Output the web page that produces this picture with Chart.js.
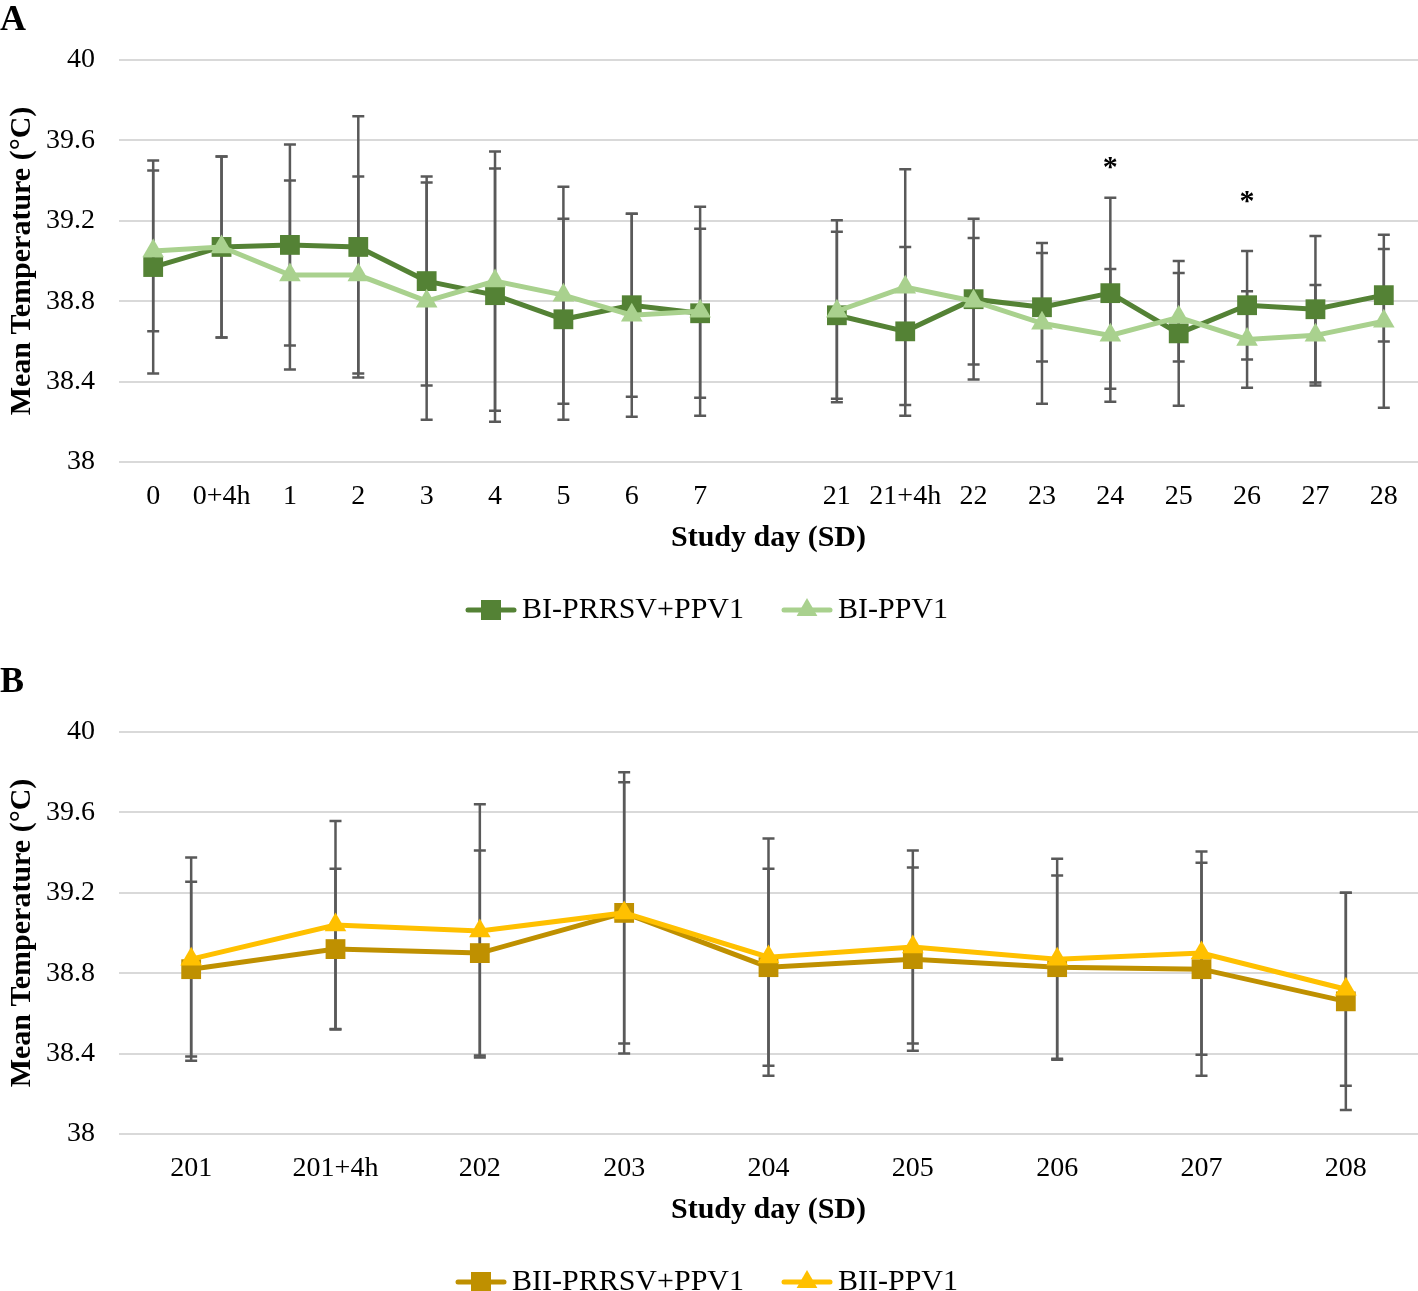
<!DOCTYPE html>
<html>
<head>
<meta charset="utf-8">
<script src="https://cdn.jsdelivr.net/npm/chart.js@4.4.1/dist/chart.umd.min.js"></script>
<style>
  html, body { margin: 0; padding: 0; background: #fff; overflow: hidden; }
  .panel { position: relative; width: 1418px; height: 672px; }
  canvas { display: block; }
  .letter { position: absolute; left: 0; font: bold 36px 'Liberation Serif', 'Times New Roman', serif; line-height: 36px; color: #000; }
</style>
</head>
<body>
<div class="panel"><canvas id="chartA" width="1418" height="672"></canvas></div>
<div class="panel"><canvas id="chartB" width="1418" height="672"></canvas></div>
<div class="letter" style="top:0px">A</div>
<div class="letter" style="top:662px">B</div>
<script>
// ---------------- Data ----------------
const daysA = ['0','0+4h','1','2','3','4','5','6','7','','21','21+4h','22','23','24','25','26','27','28'];
const labelA1 = 'BI-PRRSV+PPV1';
const meanA1 = [38.97, 39.07, 39.08, 39.07, 38.90, 38.83, 38.71, 38.78, 38.74, null, 38.73, 38.65, 38.81, 38.77, 38.84, 38.64, 38.78, 38.76, 38.83];
const sdA1   = [0.53, 0.45, 0.50, 0.65, 0.52, 0.63, 0.50, 0.455, 0.42, null, 0.415, 0.42, 0.40, 0.27, 0.475, 0.36, 0.27, 0.365, 0.23];
const labelA2 = 'BI-PPV1';
const meanA2 = [39.05, 39.07, 38.93, 38.93, 38.80, 38.90, 38.83, 38.73, 38.75, null, 38.75, 38.87, 38.80, 38.69, 38.63, 38.72, 38.61, 38.63, 38.70];
const sdA2   = [0.40, 0.45, 0.47, 0.49, 0.59, 0.645, 0.54, 0.505, 0.52, null, 0.453, 0.586, 0.315, 0.40, 0.33, 0.22, 0.24, 0.25, 0.43];
const starsA = [['24', 39.49], ['26', 39.32]];

const daysB = ['201','201+4h','202','203','204','205','206','207','208'];
const labelB1 = 'BII-PRRSV+PPV1';
const meanB1 = [38.82, 38.92, 38.90, 39.10, 38.83, 38.87, 38.83, 38.82, 38.66];
const sdB1   = [0.435, 0.40, 0.51, 0.65, 0.49, 0.456, 0.456, 0.53, 0.54];
const labelB2 = 'BII-PPV1';
const meanB2 = [38.87, 39.04, 39.01, 39.10, 38.88, 38.93, 38.87, 38.90, 38.72];
const sdB2   = [0.506, 0.517, 0.63, 0.70, 0.59, 0.48, 0.50, 0.506, 0.48];
const starsB = [];

const yTicks = [38, 38.4, 38.8, 39.2, 39.6, 40];
const yTitle = 'Mean Temperature (°C)';
const xTitle = 'Study day (SD)';

// ---------------- Style ----------------
const FONT = "'Liberation Serif', 'Times New Roman', serif";
const COL = { darkGreen: '#548235', lightGreen: '#A9D18E', gold: '#BF9000', yellow: '#FFC000', err: '#595959', grid: '#D9D9D9' };

function legendIcon(color, style) {
  const c = document.createElement('canvas');
  c.width = 57; c.height = 24;
  const g = c.getContext('2d');
  g.strokeStyle = color; g.lineWidth = 5; g.lineCap = 'round';
  g.beginPath(); g.moveTo(8, 12); g.lineTo(54, 12); g.stroke();
  g.fillStyle = color;
  const cx = 31, cy = 12;
  if (style === 'rect') {
    g.fillRect(cx - 10, cy - 10, 20, 20);
  } else {
    const r = 12;
    g.beginPath();
    g.moveTo(cx, cy - r);
    g.lineTo(cx + r * Math.sin(2 * Math.PI / 3), cy - r * Math.cos(2 * Math.PI / 3));
    g.lineTo(cx + r * Math.sin(4 * Math.PI / 3), cy - r * Math.cos(4 * Math.PI / 3));
    g.closePath(); g.fill();
  }
  return c;
}

const errorBarPlugin = {
  id: 'errorBars',
  beforeDatasetsDraw(chart) {
    const ctx = chart.ctx, ys = chart.scales.y;
    ctx.save();
    ctx.strokeStyle = COL.err; ctx.lineWidth = 2.5;
    chart.data.datasets.forEach((ds, i) => {
      const meta = chart.getDatasetMeta(i);
      ds.data.forEach((v, j) => {
        const sd = ds.errors[j];
        if (v == null || sd == null) return;
        const x = meta.data[j].x;
        const yt = ys.getPixelForValue(v + sd), yb = ys.getPixelForValue(v - sd);
        ctx.beginPath();
        ctx.moveTo(x, yt); ctx.lineTo(x, yb);
        ctx.moveTo(x - 6, yt); ctx.lineTo(x + 6, yt);
        ctx.moveTo(x - 6, yb); ctx.lineTo(x + 6, yb);
        ctx.stroke();
      });
    });
    ctx.restore();
  }
};

function starPlugin(items) {
  return {
    id: 'stars',
    afterDatasetsDraw(chart) {
      const ctx = chart.ctx, xs = chart.scales.x, ys = chart.scales.y;
      ctx.save();
      ctx.fillStyle = '#000';
      ctx.font = 'bold 30px ' + FONT;
      ctx.textAlign = 'center';
      ctx.textBaseline = 'alphabetic';
      items.forEach(([cat, val]) => {
        const x = xs.getPixelForValue(xs.getLabels().indexOf(cat));
        const y = ys.getPixelForValue(val);
        ctx.fillText('*', x, y + 13);
      });
      ctx.restore();
    }
  };
}

function zeroSidePadding(s) {
  s.paddingLeft = 0; s.paddingRight = 0;
}

function makeChart(id, labels, series, stars) {
  const datasets = series.map((s, i) => ({
    label: s.label,
    data: s.mean,
    errors: s.sd,
    borderColor: s.color,
    backgroundColor: s.color,
    borderWidth: 5,
    pointStyle: s.style,
    pointRadius: s.style === 'rect' ? 14 : 12.5,
    pointBorderWidth: 0,
    pointBackgroundColor: s.color,
    tension: 0,
    spanGaps: false,
    order: series.length - i
  }));
  const icons = series.map(s => legendIcon(s.color, s.style));
  return new Chart(document.getElementById(id), {
    type: 'line',
    data: { labels, datasets },
    plugins: [errorBarPlugin, starPlugin(stars)],
    options: {
      responsive: false,
      devicePixelRatio: 1,
      animation: false,
      events: [],
      layout: { autoPadding: false, padding: { top: 60, right: 0, left: 0, bottom: 37 } },
      scales: {
        x: {
          type: 'category',
          offset: true,
          grid: { display: false, drawTicks: false },
          border: { display: false },
          ticks: { font: { family: FONT, size: 28 }, color: '#000', padding: 18, maxRotation: 0, autoSkip: false },
          title: { display: true, text: xTitle, color: '#000', font: { family: FONT, size: 30, weight: 'bold', lineHeight: 1 }, padding: { top: 0, bottom: 0 } },
          afterFit: s => { s.height = 91; zeroSidePadding(s); }
        },
        y: {
          min: 38, max: 40,
          afterBuildTicks: s => { s.ticks = yTicks.map(v => ({ value: v })); },
          grid: { color: COL.grid, lineWidth: 2, drawTicks: false },
          border: { display: false },
          ticks: { font: { family: FONT, size: 28 }, color: '#000', padding: 24, callback: v => String(+v.toFixed(1)) },
          title: { display: true, text: yTitle, color: '#000', font: { family: FONT, size: 30, weight: 'bold', lineHeight: 1 }, padding: { top: 7, bottom: 0 } },
          afterFit: s => { s.width = 119; }
        }
      },
      plugins: {
        tooltip: { enabled: false },
        legend: {
          position: 'bottom',
          labels: {
            usePointStyle: true,
            pointStyleWidth: 37,
            padding: 42,
            color: '#000',
            font: { family: FONT, size: 30 },
            generateLabels: chart => chart.data.datasets.map((ds, i) => ({
              text: ds.label, pointStyle: icons[i], datasetIndex: i, hidden: false,
              fontColor: '#000', lineWidth: 0, fillStyle: 'transparent', strokeStyle: 'transparent'
            }))
          }
        }
      }
    }
  });
}

makeChart('chartA', daysA, [
  { label: labelA1, mean: meanA1, sd: sdA1, color: COL.darkGreen, style: 'rect' },
  { label: labelA2, mean: meanA2, sd: sdA2, color: COL.lightGreen, style: 'triangle' }
], starsA);

makeChart('chartB', daysB, [
  { label: labelB1, mean: meanB1, sd: sdB1, color: COL.gold, style: 'rect' },
  { label: labelB2, mean: meanB2, sd: sdB2, color: COL.yellow, style: 'triangle' }
], starsB);
</script>
</body>
</html>
